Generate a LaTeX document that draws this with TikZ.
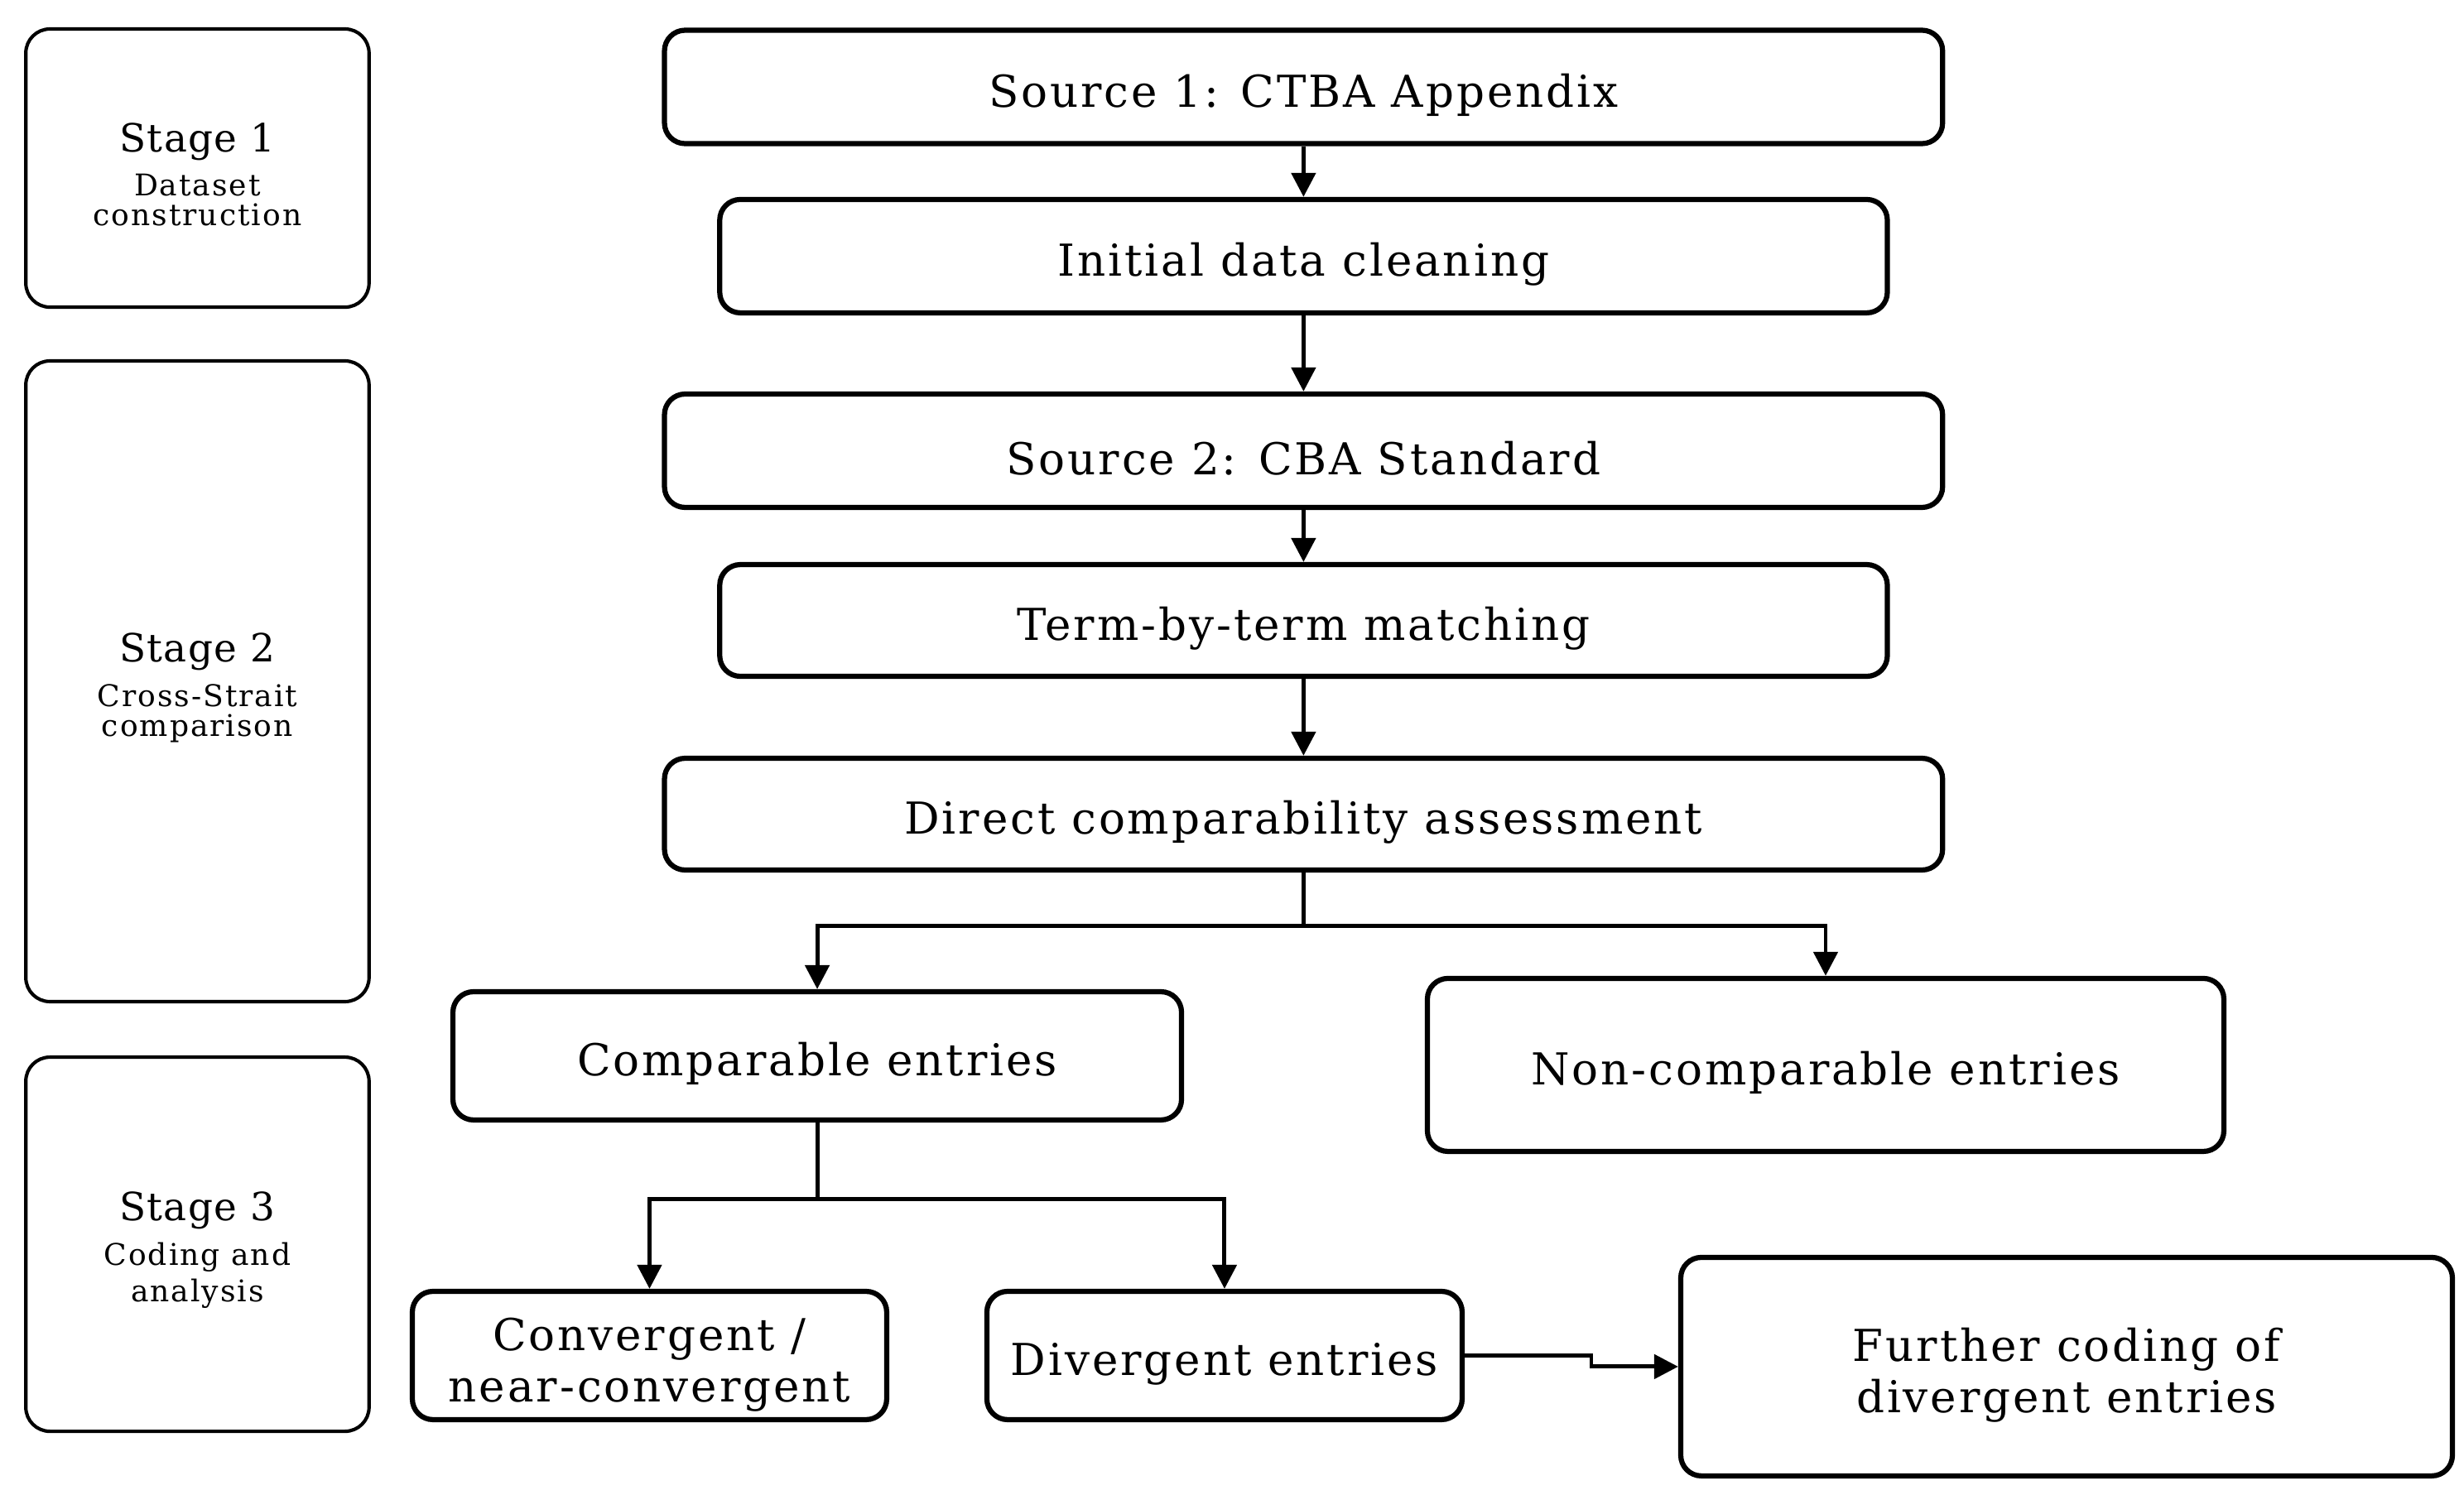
\documentclass[tikz,border=0pt]{standalone}
\usepackage{fontspec}
\setmainfont{DejaVu Serif}
\newfontfamily\boxfont[LetterSpace=5.5]{DejaVu Serif}
\newfontfamily\stagefont[LetterSpace=3]{DejaVu Serif}
\usetikzlibrary{arrows.meta}

\begin{document}
\begin{tikzpicture}[
        stage/.style={draw, rounded corners=7pt, line width=1pt, minimum width=3.51cm, align=center, font=\boxfont\fontsize{8.7}{8.7}\selectfont, execute at begin node={\rule{0pt}{33.8pt}}},
        stepbox/.style={draw, rounded corners=6pt, line width=1.5pt, minimum height=1.16cm, align=center, font=\boxfont\fontsize{12.8}{14.8}\selectfont, execute at begin node={\rule{0pt}{14.3pt}}},
        twoline/.style={stepbox, inner ysep=0pt, execute at begin node={\rule{0pt}{29.6pt}}},
        wide/.style={stepbox, minimum width=13.07cm},
        narrow/.style={stepbox, minimum width=11.94cm},
        flow/.style={-{Triangle[length=7pt,width=7pt]}, line width=1.2pt}]
        \useasboundingbox (0,0) rectangle (25.197,-15.283);
        % stage column
        \node[stage, minimum height=2.845cm] (stage1) at (2.019,-1.719) {{\stagefont\fontsize{11.3}{13}\selectfont Stage 1}\\[2.9pt]Dataset\\construction};
        \node[stage, minimum height=6.553cm] (stage2) at (2.019,-6.968) {{\stagefont\fontsize{11.3}{13}\selectfont Stage 2}\\[2.9pt]Cross-Strait\\comparison};
        \node[stage, minimum height=3.827cm, execute at begin node={\rule{0pt}{35.4pt}}] (stage3) at (2.019,-12.726) {{\stagefont\fontsize{11.3}{13}\selectfont Stage 3}\\[2.9pt]Coding and\\[2pt]analysis};
        % main column
        \node[wide] (src1) at (13.33,-0.889) {Source 1: CTBA Appendix};
        \node[narrow] (clean) at (13.33,-2.620) {Initial data cleaning};
        \node[wide] (src2) at (13.33,-4.610) {Source 2: CBA Standard};
        \node[narrow, minimum height=1.143cm] (match) at (13.33,-6.346) {Term-by-term matching};
        \node[wide, minimum height=1.143cm] (direct) at (13.33,-8.327) {Direct comparability assessment};
        % outcomes
        \node[stepbox, minimum width=7.451cm, minimum height=1.312cm] (comp) at (8.357,-10.799) {Comparable entries};
        \node[stepbox, minimum width=8.145cm, minimum height=1.770cm] (noncomp) at (18.669,-10.892) {Non-comparable entries};
        \node[twoline, minimum width=4.851cm, minimum height=1.312cm] (conv) at (6.642,-13.864) {Convergent /\\near-convergent};
        \node[stepbox, minimum width=4.860cm, minimum height=1.312cm] (div) at (12.522,-13.864) {Divergent entries};
        \node[twoline, minimum width=7.891cm, minimum height=2.235cm, font=\boxfont\fontsize{12.8}{15}\selectfont] (further) at (21.133,-13.978) {Further coding of\\divergent entries};
        % branch points
        \coordinate (split1) at (13.33,-9.466);
        \coordinate (split2) at (8.357,-12.260);
        \coordinate (jog) at (16.273,-13.864);
        \draw[flow] (src1)--(clean);
        \draw[flow] (clean)--(src2);
        \draw[flow] (src2)--(match);
        \draw[flow] (match)--(direct);
        \draw[flow] (direct.south)--(split1)-|(comp.north);
        \draw[flow] (direct.south)--(split1)-|(noncomp.north);
        \draw[flow] (comp.south)--(split2)-|(conv.north);
        \draw[flow] (comp.south)--(split2)-|(div.north);
        \draw[flow] (div.east)--(jog)|-(further.west);
      \end{tikzpicture}
\end{document}
